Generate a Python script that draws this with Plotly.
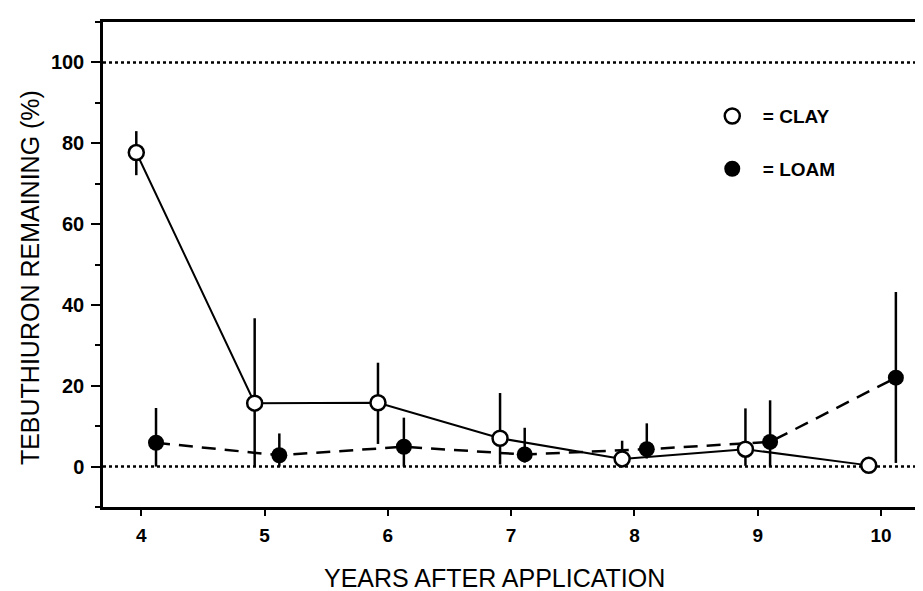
import plotly.graph_objects as go

# Data
clay_x = [3.96, 4.92, 5.92, 6.91, 7.90, 8.90, 9.90]
clay_y = [77.7, 15.7, 15.8, 7.0, 1.9, 4.3, 0.3]
clay_err_up = [5.3, 21.0, 9.9, 11.2, 4.5, 10.1, 0.0]
clay_err_down = [5.6, 15.7, 10.2, 6.5, 1.5, 4.1, 0.0]

loam_x = [4.12, 5.12, 6.13, 7.11, 8.10, 9.10, 10.12]
loam_y = [5.9, 2.8, 4.9, 3.0, 4.3, 6.1, 22.0]
loam_err_up = [8.6, 5.4, 7.2, 6.6, 6.4, 10.3, 21.2]
loam_err_down = [5.9, 2.8, 4.9, 2.0, 2.3, 6.1, 21.1]

x_ticks = [4, 5, 6, 7, 8, 9, 10]
y_ticks = [0, 20, 40, 60, 80, 100]
ref_levels = [0, 100]

fig = go.Figure()

fig.add_trace(go.Scatter(
    x=loam_x, y=loam_y, mode="lines+markers", showlegend=False,
    line=dict(color="black", width=2.5, dash="14px,9px"),
    marker=dict(symbol="circle", size=16, color="black"),
    error_y=dict(type="data", symmetric=False, array=loam_err_up,
                 arrayminus=loam_err_down, width=0, thickness=2.5, color="black"),
))
fig.add_trace(go.Scatter(
    x=clay_x, y=clay_y, mode="lines+markers", showlegend=False,
    line=dict(color="black", width=2),
    marker=dict(symbol="circle", size=15, color="white",
                line=dict(color="black", width=2.5)),
    error_y=dict(type="data", symmetric=False, array=clay_err_up,
                 arrayminus=clay_err_down, width=0, thickness=2.5, color="black"),
))

# legend entries (markers only)
fig.add_trace(go.Scatter(
    x=[None], y=[None], mode="markers", name="\u00a0\u00a0= CLAY", legendgroup="clay",
    marker=dict(symbol="circle", size=15, color="white", line=dict(color="black", width=2.5)),
))
fig.add_trace(go.Scatter(
    x=[None], y=[None], mode="markers", name="\u00a0\u00a0= LOAM", legendgroup="loam",
    marker=dict(symbol="circle", size=16, color="black"),
))

for lv in ref_levels:
    fig.add_shape(type="line", xref="paper", x0=0, x1=1, yref="y", y0=lv, y1=lv,
                  line=dict(color="black", width=2.5, dash="3px,3px"), layer="below")

fig.update_layout(
    width=915, height=583,
    margin=dict(l=95, r=0, t=14, b=84),
    paper_bgcolor="white", plot_bgcolor="white",
    font=dict(family="Liberation Sans", color="black"),
    showlegend=True,
    legend=dict(x=0.743, y=0.845, xanchor="left", yanchor="top",
                bgcolor="rgba(0,0,0,0)", traceorder="grouped", tracegroupgap=25,
                font=dict(family="Liberation Sans", size=19, weight="bold", color="black"),
                itemsizing="trace"),
    xaxis=dict(range=[3.69, 10.34], tickvals=x_ticks, ticks="outside", ticklen=6,
               tickwidth=2, tickcolor="black", showline=True, linewidth=2.5,
               linecolor="black", mirror=True, showgrid=False, zeroline=False,
               tickfont=dict(family="Liberation Sans", size=19, weight="bold"),
               ticklabelstandoff=3),
    yaxis=dict(range=[-10, 110], tickvals=y_ticks, ticks="outside", ticklen=9,
               tickwidth=2, tickcolor="black", showline=True, linewidth=2.5,
               linecolor="black", showgrid=False, zeroline=False,
               minor=dict(dtick=10, tick0=0, ticks="outside", ticklen=5,
                          tickwidth=2, tickcolor="black", showgrid=False),
               tickfont=dict(family="Liberation Sans", size=20, weight="bold"),
               ticklabelstandoff=3),
    annotations=[
        dict(text="TEBUTHIURON REMAINING (%)", xref="paper", yref="paper",
             x=-0.089, y=0.472, xanchor="center", yanchor="middle", textangle=-90,
             showarrow=False, font=dict(family="Liberation Sans", size=25, color="black")),
        dict(text="YEARS AFTER APPLICATION", xref="paper", yref="paper",
             x=0.478, y=-0.146, xanchor="center", yanchor="middle",
             showarrow=False, font=dict(family="Liberation Sans", size=25, color="black")),
    ],
)

fig.write_html("out.html")
